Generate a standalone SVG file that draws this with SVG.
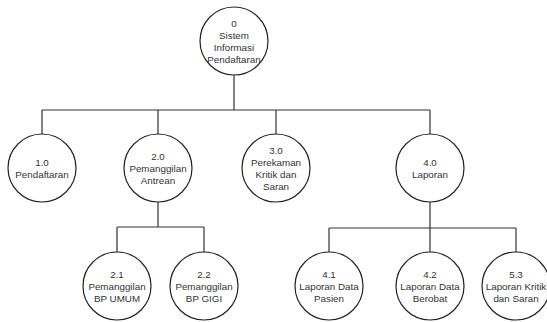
<svg xmlns="http://www.w3.org/2000/svg" width="547" height="322" viewBox="0 0 547 322">
  <style>
    .proc { fill: #ffffff; stroke: #222222; stroke-width: 1.2; }
    .wire { fill: none; stroke: #333333; stroke-width: 1.2; }
    .lbl { font-family: "Liberation Sans", Arial, sans-serif; font-size: 9.8px; fill: #333333; text-anchor: middle; }
  </style>
  <rect width="547" height="322" fill="#ffffff"/>

  <!-- connectors -->
  <g id="connectors">
    <path class="wire" d="M234 75 V110 M42 110 H430 M42 110 V134 M158 110 V134 M276 110 V134 M430 110 V134"/>
    <path class="wire" d="M158 202 V227 M117 227 H204 M117 227 V252 M204 227 V252"/>
    <path class="wire" d="M430 202 V228 M329 228 H516 M329 228 V252 M430 228 V252 M516 228 V252"/>
  </g>

  <!-- root process -->
  <g id="p0">
    <circle class="proc" cx="234" cy="41" r="34"/>
    <text class="lbl" x="234" y="26.5">0</text>
    <text class="lbl" x="234" y="38.5">Sistem</text>
    <text class="lbl" x="234" y="50.5">Informasi</text>
    <text class="lbl" x="234" y="62.5">Pendaftaran</text>
  </g>

  <!-- level 1 -->
  <g id="p1">
    <circle class="proc" cx="42" cy="168" r="34"/>
    <text class="lbl" x="42" y="165.5">1.0</text>
    <text class="lbl" x="42" y="177.5">Pendaftaran</text>
  </g>
  <g id="p2">
    <circle class="proc" cx="158" cy="168" r="34"/>
    <text class="lbl" x="158" y="159.5">2.0</text>
    <text class="lbl" x="158" y="171.5">Pemanggilan</text>
    <text class="lbl" x="158" y="183.5">Antrean</text>
  </g>
  <g id="p3">
    <circle class="proc" cx="276" cy="168" r="34"/>
    <text class="lbl" x="276" y="153.5">3.0</text>
    <text class="lbl" x="276" y="165.5">Perekaman</text>
    <text class="lbl" x="276" y="177.5">Kritik dan</text>
    <text class="lbl" x="276" y="189.5">Saran</text>
  </g>
  <g id="p4">
    <circle class="proc" cx="430" cy="168" r="34"/>
    <text class="lbl" x="430" y="165.5">4.0</text>
    <text class="lbl" x="430" y="177.5">Laporan</text>
  </g>

  <!-- level 2 -->
  <g id="p2_1">
    <circle class="proc" cx="117" cy="286" r="34"/>
    <text class="lbl" x="117" y="277.5">2.1</text>
    <text class="lbl" x="117" y="289.5">Pemanggilan</text>
    <text class="lbl" x="117" y="301.5">BP UMUM</text>
  </g>
  <g id="p2_2">
    <circle class="proc" cx="204" cy="286" r="34"/>
    <text class="lbl" x="204" y="277.5">2.2</text>
    <text class="lbl" x="204" y="289.5">Pemanggilan</text>
    <text class="lbl" x="204" y="301.5">BP GIGI</text>
  </g>
  <g id="p4_1">
    <circle class="proc" cx="329" cy="286" r="34"/>
    <text class="lbl" x="329" y="277.5">4.1</text>
    <text class="lbl" x="329" y="289.5">Laporan Data</text>
    <text class="lbl" x="329" y="301.5">Pasien</text>
  </g>
  <g id="p4_2">
    <circle class="proc" cx="430" cy="286" r="34"/>
    <text class="lbl" x="430" y="277.5">4.2</text>
    <text class="lbl" x="430" y="289.5">Laporan Data</text>
    <text class="lbl" x="430" y="301.5">Berobat</text>
  </g>
  <g id="p5_3">
    <circle class="proc" cx="516" cy="286" r="34"/>
    <text class="lbl" x="516" y="277.5">5.3</text>
    <text class="lbl" x="516" y="289.5">Laporan Kritik</text>
    <text class="lbl" x="516" y="301.5">dan Saran</text>
  </g>
</svg>
